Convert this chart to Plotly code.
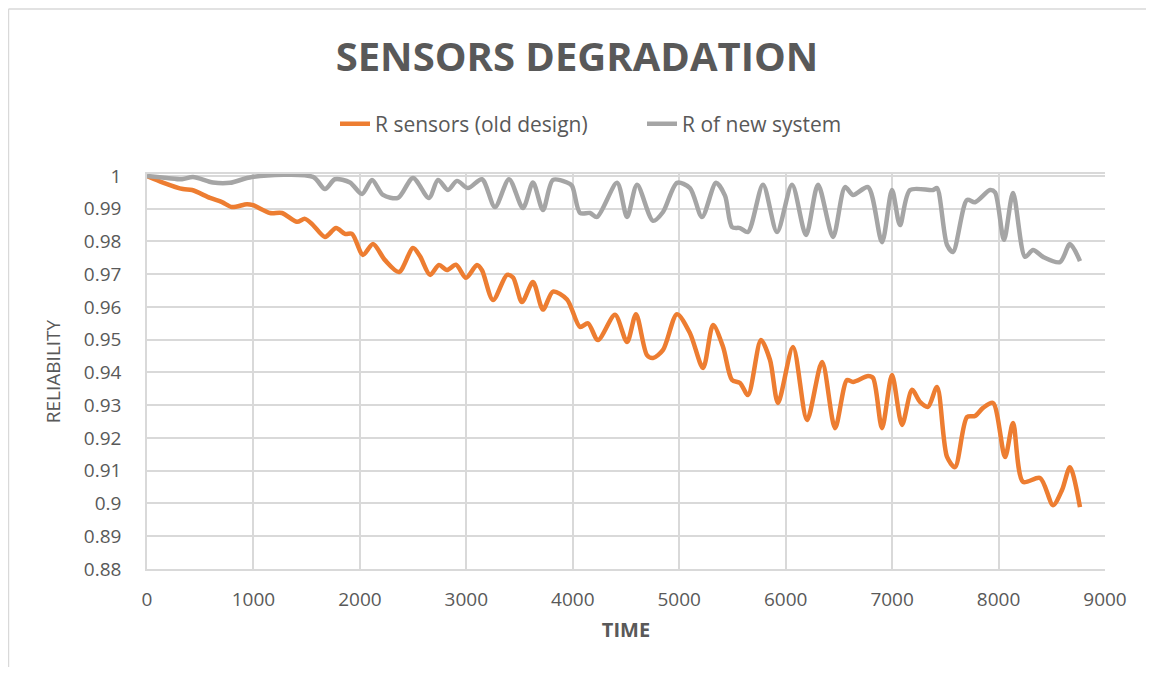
import plotly.graph_objects as go

# ---- data ----
t_old = [0, 150, 338, 423, 592, 705, 799, 939, 996, 1156, 1268, 1409, 1484, 1560, 1672, 1776,
         1860, 1926, 2029, 2123, 2236, 2368, 2499, 2565, 2659, 2743, 2818, 2903, 2997, 3100,
         3147, 3251, 3382, 3439, 3523, 3626, 3720, 3814, 3946, 4068, 4143, 4237, 4397, 4510,
         4594, 4697, 4754, 4848, 4979, 5101, 5224, 5318, 5412, 5496, 5571, 5646, 5768, 5853,
         5928, 6069, 6201, 6342, 6464, 6576, 6633, 6774, 6821, 6905, 6999, 7093, 7187, 7262,
         7337, 7422, 7516, 7591, 7704, 7779, 7854, 7948, 8061, 8136, 8230, 8390, 8512, 8596,
         8671, 8765]
r_old = [1.0, 0.998, 0.996, 0.9957, 0.9933, 0.992, 0.9905, 0.9914, 0.9911, 0.9887, 0.9887,
         0.986, 0.9869, 0.985, 0.9814, 0.9841, 0.9823, 0.9823, 0.9759, 0.9792, 0.9743, 0.9707,
         0.978, 0.9755, 0.9698, 0.9728, 0.9713, 0.9729, 0.9689, 0.9728, 0.9712, 0.9621, 0.9698,
         0.969, 0.9615, 0.9676, 0.9592, 0.9647, 0.9623, 0.9539, 0.955, 0.9499, 0.9576, 0.9493,
         0.9578, 0.9453, 0.9444, 0.9469, 0.9578, 0.952, 0.9414, 0.9545, 0.9478, 0.9377, 0.9368,
         0.9331, 0.9499, 0.9438, 0.9307, 0.9478, 0.9255, 0.9432, 0.923, 0.9377, 0.9371, 0.9389,
         0.9383, 0.923, 0.9392, 0.924, 0.9347, 0.931, 0.9295, 0.9356, 0.9142, 0.9111, 0.9264,
         0.9267, 0.9292, 0.9307, 0.9142, 0.9246, 0.9066, 0.9078, 0.8995, 0.9041, 0.9111, 0.8989]

t_new = [0, 188, 329, 432, 620, 780, 986, 1560, 1672, 1766, 1907, 2020, 2114, 2217, 2358, 2499,
         2649, 2734, 2828, 2912, 3016, 3147, 3269, 3401, 3532, 3626, 3720, 3814, 3946, 3993,
         4068, 4162, 4228, 4416, 4510, 4604, 4754, 4848, 4979, 5101, 5214, 5346, 5430, 5496,
         5571, 5646, 5787, 5919, 6060, 6191, 6304, 6445, 6558, 6633, 6774, 6905, 6999, 7074,
         7168, 7384, 7422, 7516, 7572, 7704, 7779, 7920, 7967, 8051, 8136, 8249, 8324, 8418,
         8577, 8671, 8765]
r_new = [1.0, 0.9994, 0.999, 0.9997, 0.998, 0.9979, 0.9997, 0.9997, 0.996, 0.999, 0.998, 0.9945,
         0.9988, 0.9942, 0.9933, 0.9994, 0.9933, 0.9988, 0.9957, 0.9985, 0.9963, 0.999, 0.9905,
         0.999, 0.9902, 0.998, 0.9896, 0.9988, 0.998, 0.997, 0.9887, 0.9887, 0.9875, 0.9979,
         0.9875, 0.9973, 0.9863, 0.989, 0.9979, 0.9963, 0.9875, 0.9979, 0.994, 0.9844, 0.9841,
         0.9829, 0.9973, 0.9829, 0.9973, 0.982, 0.9973, 0.9814, 0.9966, 0.9942, 0.9966, 0.9798,
         0.9957, 0.985, 0.9957, 0.9957, 0.9963, 0.9789, 0.9768, 0.9927, 0.992, 0.9957, 0.995,
         0.9805, 0.9948, 0.9753, 0.9774, 0.9753, 0.9737, 0.9792, 0.974]

series_names = ["R sensors (old design)", "R of new system"]
x_ticks = [0, 1000, 2000, 3000, 4000, 5000, 6000, 7000, 8000, 9000]
y_ticks = [1, 0.99, 0.98, 0.97, 0.96, 0.95, 0.94, 0.93, 0.92, 0.91, 0.9, 0.89, 0.88]

TXT = "#595959"
GRID = "#D9D9D9"
FONT = "Open Sans"

fig = go.Figure()
fig.add_trace(go.Scatter(x=t_old, y=r_old, mode="lines", name=series_names[0], legendwidth=262,
                         line=dict(color="#ED7D31", width=4.5, shape="spline", smoothing=0.8)))
fig.add_trace(go.Scatter(x=t_new, y=r_new, mode="lines", name=series_names[1],
                         line=dict(color="#A5A5A5", width=4.5, shape="spline", smoothing=0.8)))

fig.update_layout(
    width=1138, height=659,
    margin=dict(l=139, r=41, t=166, b=98, autoexpand=False),
    paper_bgcolor="white", plot_bgcolor="white",
    font=dict(family=FONT, color=TXT, size=19),
    title=dict(text="<b>SENSORS DEGRADATION</b>", x=0.5, xanchor="center", xref="container",
               y=0.9256, yanchor="middle",
               font=dict(family=FONT, size=40, color=TXT)),
    legend=dict(orientation="h", xref="paper", x=(327 - 139) / 958, xanchor="left",
                y=1.1266, yanchor="middle",
                font=dict(family=FONT, size=21, color=TXT),
                bgcolor="rgba(0,0,0,0)", traceorder="normal"),
    showlegend=True,
)
fig.update_xaxes(range=[0, 9000], tickmode="array", tickvals=x_ticks,
                 ticktext=[str(v) for v in x_ticks], tickangle=0,
                 showgrid=True, gridcolor=GRID, gridwidth=1.5,
                 showline=True, linecolor=GRID, linewidth=1.5, mirror=True,
                 zeroline=False, ticks="", ticklabelstandoff=12,
                 tickfont=dict(family=FONT, size=19, color=TXT),
                 title=dict(text="<b>TIME</b>", font=dict(family=FONT, size=20, color=TXT),
                            standoff=12))
fig.update_yaxes(range=[0.88, 1.0006], tickmode="array", tickvals=y_ticks,
                 ticktext=[("%g" % v) for v in y_ticks],
                 showgrid=True, gridcolor=GRID, gridwidth=1.5,
                 showline=True, linecolor=GRID, linewidth=1.5, mirror=False,
                 zeroline=False, ticks="", ticklabelstandoff=20,
                 tickfont=dict(family=FONT, size=19, color=TXT),
                 title=dict(text="RELIABILITY", font=dict(family=FONT, size=19, color=TXT),
                            standoff=18))

# chart-area border (left and top edges visible in the reference)
fig.add_shape(type="line", xref="paper", yref="paper", x0=-0.1446, x1=-0.1446, y0=-0.3, y1=1.4177,
              line=dict(color=GRID, width=1.5))
fig.add_shape(type="line", xref="paper", yref="paper", x0=-0.1446, x1=1.2, y0=1.4177, y1=1.4177,
              line=dict(color=GRID, width=1.5))

fig.write_html("out.html")
